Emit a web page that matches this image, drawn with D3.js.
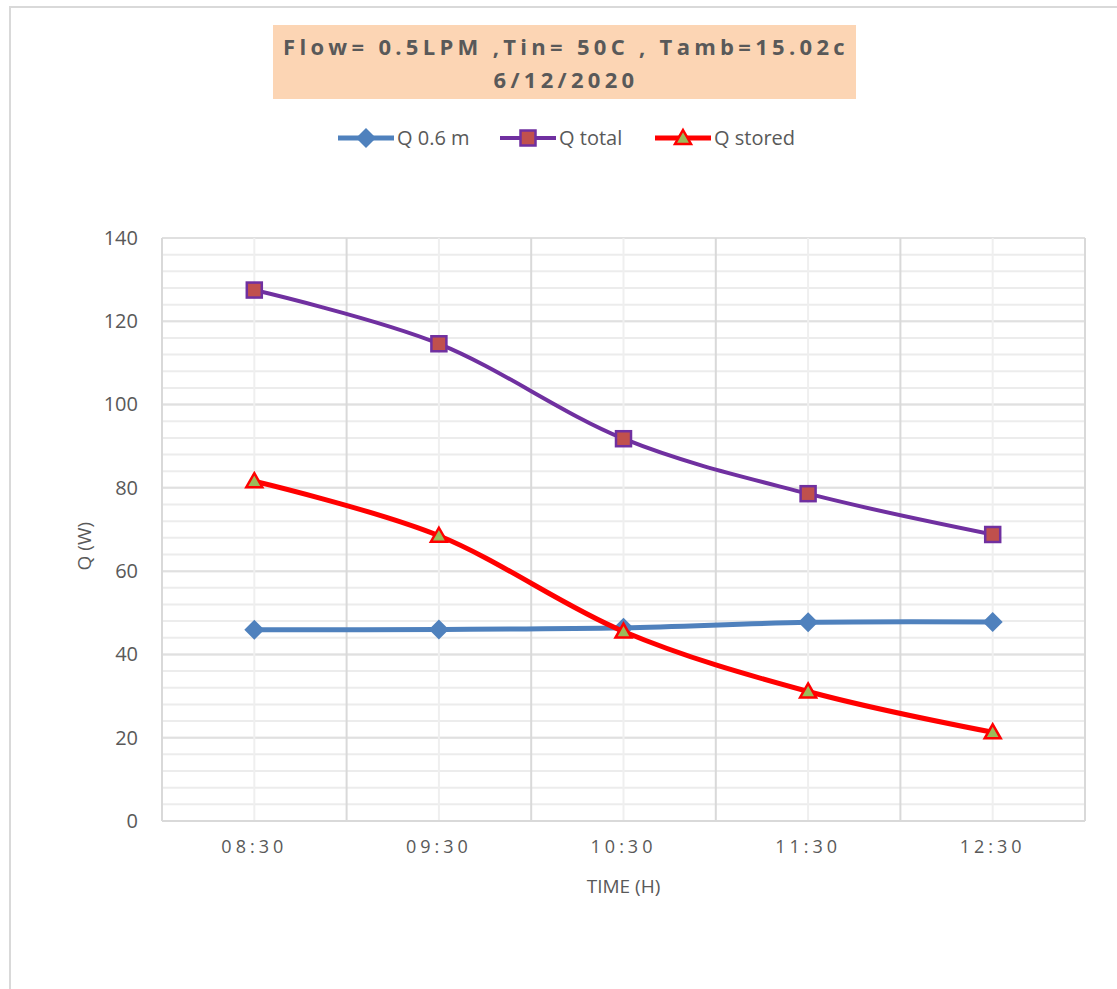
<!DOCTYPE html>
<html>
<head>
<meta charset="utf-8">
<script src="https://cdn.jsdelivr.net/npm/d3@7"></script>
<style>
  body { margin: 0; background: #fff; }
  svg { display: block; }
</style>
</head>
<body>
<div id="chart"></div>
<script>
// chart data
const times = ["08:30", "09:30", "10:30", "11:30", "12:30"];
const q06 = [45.9, 46.0, 46.4, 47.7, 47.8];
const qTotal = [127.5, 114.6, 91.8, 78.6, 68.8];
const qStored = [81.6, 68.5, 45.5, 31.1, 21.3];
const yTicks = [0, 20, 40, 60, 80, 100, 120, 140];
const titleLines = ["Flow= 0.5LPM ,Tin= 50C , Tamb=15.02c", "6/12/2020"];

const width = 1117;
const height = 989;
const margin = {left: 162, right: 32, top: 238, bottom: 168};
const font = "Open Sans, Noto Sans, sans-serif";

const svg = d3.select("#chart")
    .append("svg")
    .attr("width", width)
    .attr("height", height)
    .attr("font-family", font);

// chart area border (only top and left show in the crop)
svg.append("rect")
    .attr("x", 10).attr("y", 7)
    .attr("width", width + 20).attr("height", height + 20)
    .attr("fill", "#fff")
    .attr("stroke", "#d9d9d9")
    .attr("stroke-width", 2);

// title box
svg.append("rect")
    .attr("x", 273).attr("y", 25)
    .attr("width", 583).attr("height", 74)
    .attr("fill", "#fcd5b4");

svg.append("g").selectAll("text")
    .data(titleLines)
    .join("text")
    .attr("x", 566)
    .attr("y", (d, i) => 55 + i * 33)
    .attr("text-anchor", "middle")
    .attr("font-size", 22)
    .attr("font-weight", "bold")
    .attr("letter-spacing", 4.3)
    .attr("fill", "#595959")
    .text(d => d);

const x = d3.scaleBand()
    .domain(times)
    .range([margin.left, width - margin.right]);

const y = d3.scaleLinear()
    .domain([0, 140])
    .range([height - margin.bottom, margin.top]);

const cx = d => x(d) + x.bandwidth() / 2;

// minor horizontal grid
svg.append("g")
    .selectAll("line")
    .data(d3.range(0, 141, 4))
    .join("line")
    .attr("x1", x.range()[0]).attr("x2", x.range()[1])
    .attr("y1", d => y(d)).attr("y2", d => y(d))
    .attr("stroke", "#ececec")
    .attr("stroke-width", 2);

// major horizontal grid
svg.append("g")
    .selectAll("line")
    .data(yTicks)
    .join("line")
    .attr("x1", x.range()[0]).attr("x2", x.range()[1])
    .attr("y1", d => y(d)).attr("y2", d => y(d))
    .attr("stroke", "#e0e0e0")
    .attr("stroke-width", 2);

// minor vertical grid at category centers
svg.append("g")
    .selectAll("line")
    .data(times)
    .join("line")
    .attr("x1", cx).attr("x2", cx)
    .attr("y1", y(0)).attr("y2", y(140))
    .attr("stroke", "#efefef")
    .attr("stroke-width", 2);

// major vertical grid at category edges
const edges = times.map(t => x(t)).concat([x.range()[1]]);
svg.append("g")
    .selectAll("line")
    .data(edges)
    .join("line")
    .attr("x1", d => d).attr("x2", d => d)
    .attr("y1", y(0)).attr("y2", y(140))
    .attr("stroke", "#d9d9d9")
    .attr("stroke-width", 2);

// bottom axis line
svg.append("line")
    .attr("x1", x.range()[0]).attr("x2", x.range()[1])
    .attr("y1", y(0)).attr("y2", y(0))
    .attr("stroke", "#d9d9d9")
    .attr("stroke-width", 2);

// y tick labels
const yAxis = svg.append("g")
    .attr("transform", `translate(${margin.left},0)`)
    .call(d3.axisLeft(y).tickValues(yTicks).tickSize(0).tickPadding(24));
yAxis.select(".domain").remove();
yAxis.selectAll("text")
    .attr("font-size", 20)
    .attr("font-family", font)
    .attr("fill", "#595959");

// x tick labels
const xAxis = svg.append("g")
    .attr("transform", `translate(0,${y(0)})`)
    .call(d3.axisBottom(x).tickSize(0).tickPadding(19));
xAxis.select(".domain").remove();
xAxis.selectAll("text")
    .attr("font-size", 18)
    .attr("letter-spacing", 4)
    .attr("font-family", font)
    .attr("fill", "#595959");

// axis titles
svg.append("text")
    .attr("x", cx("10:30"))
    .attr("y", 893)
    .attr("text-anchor", "middle")
    .attr("font-size", 19)
    .attr("fill", "#595959")
    .text("TIME (H)");

svg.append("text")
    .attr("transform", `translate(91,${y(66)}) rotate(-90)`)
    .attr("text-anchor", "middle")
    .attr("font-size", 19)
    .attr("fill", "#595959")
    .text("Q (W)");

// series
const series = [
    {name: "Q 0.6 m", values: q06, color: "#4f81bd", width: 5, marker: "diamond", fill: "#4f81bd", stroke: "#4f81bd"},
    {name: "Q total", values: qTotal, color: "#7030a0", width: 4, marker: "square", fill: "#c0504d", stroke: "#7030a0"},
    {name: "Q stored", values: qStored, color: "#ff0000", width: 5, marker: "triangle", fill: "#9bbb59", stroke: "#ff0000"}
];

const line = d3.line()
    .x((d, i) => cx(times[i]))
    .y(d => y(d))
    .curve(d3.curveCardinal.tension(0));

function marker(g, s) {
    if (s.marker === "diamond") {
        g.append("path")
            .attr("d", "M0,-10L10,0L0,10L-10,0Z")
            .attr("fill", s.fill);
    } else if (s.marker === "square") {
        g.append("rect")
            .attr("x", -7.5).attr("y", -7.5)
            .attr("width", 15).attr("height", 15)
            .attr("fill", s.fill)
            .attr("stroke", s.stroke)
            .attr("stroke-width", 2.5);
    } else {
        g.append("path")
            .attr("d", "M0,-8L8,6L-8,6Z")
            .attr("fill", s.fill)
            .attr("stroke", s.stroke)
            .attr("stroke-width", 2.5);
    }
}

series.forEach(s => {
    svg.append("path")
        .datum(s.values)
        .attr("fill", "none")
        .attr("stroke", s.color)
        .attr("stroke-width", s.width)
        .attr("d", line);

    s.values.forEach((v, i) => {
        const g = svg.append("g")
            .attr("transform", `translate(${cx(times[i])},${y(v)})`);
        marker(g, s);
    });
});

// legend
const legendX = [338, 500, 655];
series.forEach((s, i) => {
    const g = svg.append("g")
        .attr("transform", `translate(${legendX[i]},138)`);
    g.append("line")
        .attr("x1", 0).attr("x2", 56)
        .attr("stroke", s.color)
        .attr("stroke-width", s.width);
    const m = g.append("g").attr("transform", "translate(28,0)");
    marker(m, s);
    g.append("text")
        .attr("x", 59)
        .attr("dy", "0.35em")
        .attr("font-size", 20)
        .attr("fill", "#595959")
        .text(s.name);
});
</script>
</body>
</html>
